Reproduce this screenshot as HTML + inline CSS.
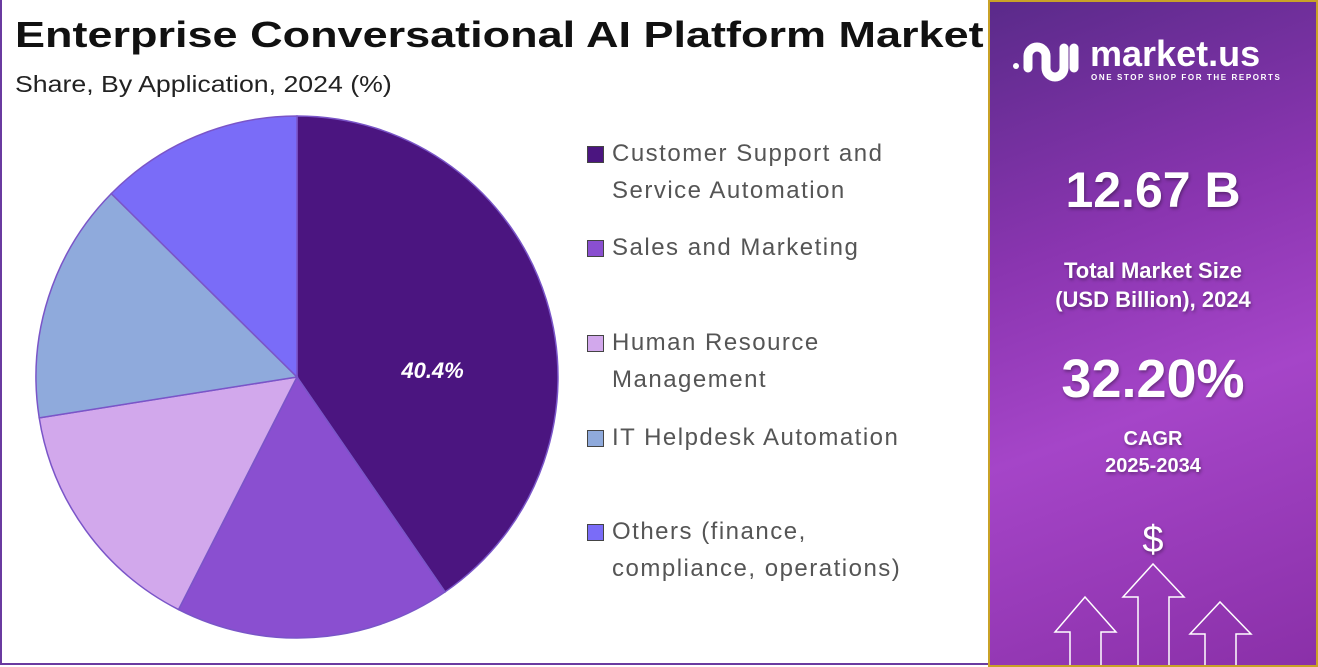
<!DOCTYPE html>
<html><head><meta charset="utf-8"><style>
body{margin:0;width:1318px;height:667px;overflow:hidden;background:#fff;font-family:"Liberation Sans",sans-serif;position:relative}
.abs{position:absolute}
.leg{position:absolute;left:612px;font-size:24px;color:#555;line-height:37px;letter-spacing:1.5px;white-space:nowrap}
.sq{position:absolute;left:587px;width:15px;height:15px;border:1px solid #444}
.panel{position:absolute;left:988px;top:0;width:326px;height:663px;border:2px solid #c9a227;background:linear-gradient(160deg,#5a2a8a 0%,#8a35b0 35%,#a545c8 60%,#8a30a8 100%);overflow:hidden}
.w{position:absolute;left:0;width:326px;text-align:center;color:#fff;font-weight:bold;text-shadow:1px 2px 3px rgba(0,0,0,.35)}
</style></head><body>
<div class="abs" style="left:0;top:0;width:988px;height:665px;border-left:2px solid #6a3aa0;border-bottom:2px solid #6a3aa0;box-sizing:border-box"></div>
<div class="abs" style="left:15px;top:14px;font-size:36px;font-weight:bold;color:#111;white-space:nowrap;transform-origin:0 0;transform:scaleX(1.25)">Enterprise Conversational AI Platform Market</div>
<div class="abs" style="left:15px;top:71px;font-size:23px;color:#222;white-space:nowrap;transform-origin:0 0;transform:scaleX(1.16)">Share, By Application, 2024 (%)</div>
<svg class="abs" style="left:0;top:0" width="988" height="667" id="pie"></svg>
<div>
<div class="sq" style="top:146px;background:#4b1580"></div>
<div class="leg" style="top:135px">Customer Support and<br>Service Automation</div>
<div class="sq" style="top:240px;background:#8a4fd0"></div>
<div class="leg" style="top:229px">Sales and Marketing</div>
<div class="sq" style="top:335px;background:#d2a8ec"></div>
<div class="leg" style="top:324px">Human Resource<br>Management</div>
<div class="sq" style="top:430px;background:#8faadc"></div>
<div class="leg" style="top:419px">IT Helpdesk Automation</div>
<div class="sq" style="top:524px;background:#7a6cf8"></div>
<div class="leg" style="top:513px">Others (finance,<br>compliance, operations)</div>
</div>
<div class="panel">
<svg class="abs" style="left:20px;top:38px" width="70" height="42" fill="none" stroke="#fff" stroke-width="9" stroke-linecap="round">
<circle cx="6" cy="26" r="3" fill="#fff" stroke="none"/>
<path d="M18,28V16a9,9 0 0 1 18,0V28a9,9 0 0 0 18,0V8"/>
<path d="M64,28V8"/>
</svg>
<div class="abs" style="left:100px;top:34px;color:#fff;font-size:36px;font-weight:bold;line-height:36px">market.us</div>
<div class="abs" style="left:101px;top:71px;color:#fff;font-size:8px;font-weight:bold;letter-spacing:1.6px">ONE STOP SHOP FOR THE REPORTS</div>
<div class="w" style="top:158px;font-size:50px;line-height:60px">12.67 B</div>
<div class="w" style="top:254px;font-size:22px;line-height:29px">Total Market Size<br>(USD Billion), 2024</div>
<div class="w" style="top:347px;font-size:54px;line-height:60px">32.20%</div>
<div class="w" style="top:424px;font-size:20px;line-height:27px">CAGR<br>2025-2034</div>
<div class="w" style="top:516px;font-size:38px;font-weight:normal;line-height:44px">$</div>
<svg class="abs" style="left:0;top:0" width="326" height="667" fill="none" stroke="#fff" stroke-width="1.5">
<path d="M80,667V630H65L95,595L126,630H111V667"/>
<path d="M148,667V595H133L163,562L194,595H179V667"/>
<path d="M215,667V632H200L230,600L261,632H246V667"/>
</svg>
</div>
<script>
const categories=["Customer Support and Service Automation","Sales and Marketing","Human Resource Management","IT Helpdesk Automation","Others"];
const shares=[40.4,17.1,15.0,14.9,12.6];
const colors=["#4b1580","#8a4fd0","#d2a8ec","#8faadc","#7a6cf8"];
const svg=document.getElementById('pie');
const cx=297,cy=377,r=261;
const tot=shares.reduce((a,b)=>a+b,0);
let a0=0;
const pt=a=>[cx+r*Math.sin(a),cy-r*Math.cos(a)];
shares.forEach((v,i)=>{
  const a1=a0+v/tot*2*Math.PI;
  const [x0,y0]=pt(a0),[x1,y1]=pt(a1);
  const p=document.createElementNS('http://www.w3.org/2000/svg','path');
  p.setAttribute('d',`M${cx},${cy}L${x0},${y0}A${r},${r} 0 ${a1-a0>Math.PI?1:0} 1 ${x1},${y1}Z`);
  p.setAttribute('fill',colors[i]);p.setAttribute('stroke','#7a55c8');p.setAttribute('stroke-width','1.5');
  
  
  svg.appendChild(p);
  if(i===0){
    const m=(a0+a1)/2+0.25;
    const t=document.createElementNS('http://www.w3.org/2000/svg','text');
    t.setAttribute('x',cx+r*0.52*Math.sin(m));t.setAttribute('y',cy-r*0.52*Math.cos(m)+8);
    t.setAttribute('fill','#fff');t.setAttribute('font-size','22');t.setAttribute('font-weight','bold');t.setAttribute('font-style','italic');
    t.setAttribute('text-anchor','middle');t.setAttribute('font-family','Liberation Sans, sans-serif');
    t.textContent=v.toFixed(1)+'%';
    
    
    svg.appendChild(t);
  }
  a0=a1;
});
</script>
</body></html>
